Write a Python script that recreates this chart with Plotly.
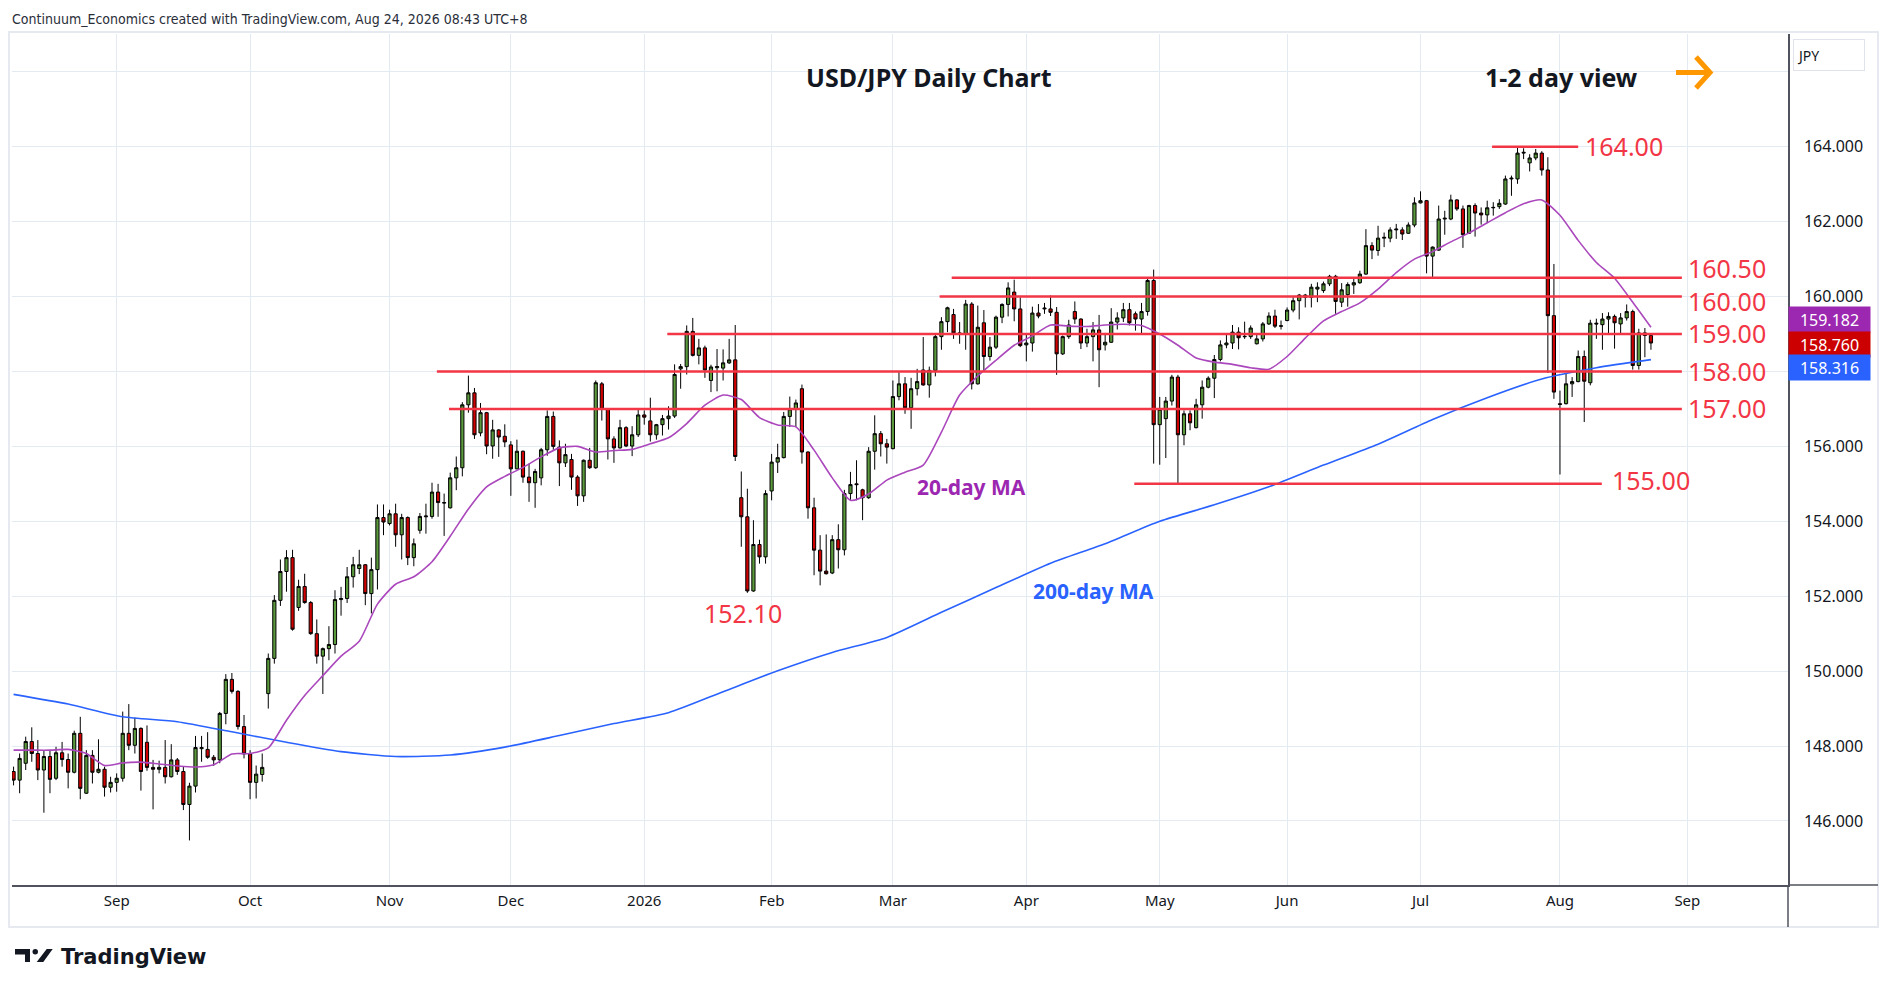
import pandas as pd
import plotly.graph_objects as go

# ---- data: USD/JPY daily bars, 7 Aug 2025 .. 24 Aug 2026 (no bars on 25 Dec / 1 Jan) ----
first_day, last_day = "2025-08-07", "2026-08-24"
holidays = ["2025-12-25", "2026-01-01"]

open_ = [
    # Aug 2025
    147.32, 147.09, 147.54, 148.12, 147.80, 147.36, 147.72, 147.14, 147.82, 147.64, 147.30, 148.34, 146.74, 147.75, 147.30, 147.38, 146.90,
    # Sep
    147.03, 147.14, 148.34, 148.02, 148.47, 148.10, 147.43, 147.38, 147.43, 147.18, 147.63, 147.32, 146.44, 146.93, 147.93, 147.91, 147.70, 147.63, 148.87, 149.78, 149.46, 148.52,
    # Oct
    147.79, 147.03, 147.24, 149.40, 150.34, 151.89, 152.66, 153.03, 151.70, 152.26, 151.83, 151.00, 150.40, 150.60, 150.71, 151.91, 151.94, 152.52, 152.74, 152.84, 152.07, 152.71, 154.10,
    # Nov
    153.94, 154.20, 153.64, 154.10, 153.03, 153.76, 154.12, 154.13, 154.78, 154.50, 154.36, 155.16, 155.43, 157.11, 157.43, 156.36, 156.90, 156.01, 156.44, 156.27,
    # Dec
    156.04, 155.40, 155.87, 155.18, 155.03, 155.16, 155.91, 156.80, 155.98, 155.56, 155.65, 155.18, 154.68, 155.63, 155.43, 157.67, 156.99, 156.20, 155.96, 156.50, 156.01, 156.31,
    # Jan 2026
    156.84, 156.68, 156.31, 156.58, 156.74, 156.81, 158.07, 158.13, 159.07, 158.43, 158.63, 157.76, 158.10, 158.09, 158.23, 158.31, 154.63, 154.12, 152.14, 153.38, 153.05,
    # Feb
    154.81, 155.58, 155.70, 156.80, 157.00, 157.54, 155.85, 154.36, 153.23, 152.67, 152.62, 153.51, 153.24, 154.74, 155.00, 154.84, 154.63, 155.87, 156.34, 156.07,
    # Mar
    155.94, 157.33, 157.67, 157.03, 157.54, 158.04, 157.64, 158.03, 158.93, 159.33, 159.52, 159.03, 158.99, 159.80, 157.67, 159.30, 158.40, 158.65, 159.45, 159.79, 160.12, 159.67,
    # Apr
    158.71, 158.76, 159.56, 159.67, 159.67, 159.58, 158.47, 158.93, 159.60, 159.40, 158.76, 158.93, 159.11, 158.71, 158.78, 159.32, 159.43, 159.65, 159.54, 159.40, 159.60, 160.43,
    # May
    156.58, 156.74, 157.21, 157.85, 156.31, 156.87, 156.50, 157.11, 157.58, 157.82, 158.32, 158.71, 158.76, 159.05, 158.94, 158.93, 158.74, 158.87, 159.27, 159.48, 159.22,
    # Jun
    159.36, 159.64, 159.89, 160.04, 159.98, 160.20, 160.16, 160.34, 160.54, 159.85, 160.05, 160.31, 160.37, 160.60, 161.36, 161.23, 161.56, 161.56, 161.78, 161.78, 161.69, 161.91,
    # Jul
    162.50, 162.56, 161.08, 161.24, 162.07, 162.07, 162.58, 162.34, 161.69, 162.43, 162.23, 162.18, 162.37, 162.40, 162.47, 163.14, 163.14, 163.83, 163.57, 163.70, 163.83, 163.38, 159.49,
    # Aug
    157.14, 157.14, 157.67, 157.73, 158.40, 157.70, 159.29, 159.25, 159.40, 159.47, 159.27, 159.43, 159.60, 158.16, 159.03, 158.96,
]
high = [
    147.45, 147.80, 148.25, 148.50, 148.16, 147.89, 147.89, 147.98, 148.11, 147.80, 148.41, 148.78, 147.89, 147.89, 148.18, 147.45, 147.18,
    147.27, 148.92, 149.12, 148.76, 148.50, 148.55, 147.63, 147.61, 148.16, 148.05, 147.68, 147.45, 147.02, 148.27, 148.27, 148.37, 147.76, 148.91, 149.92, 149.95, 149.49, 148.83,
    147.89, 147.48, 147.80, 150.47, 152.03, 152.98, 153.23, 153.24, 152.44, 152.60, 151.87, 151.38, 150.63, 151.20, 152.16, 152.25, 152.78, 153.05, 153.24, 152.86, 153.03, 154.45, 154.45,
    154.31, 154.47, 154.20, 154.13, 153.54, 154.22, 154.47, 155.03, 155.00, 154.74, 155.30, 155.73, 157.18, 157.89, 157.56, 157.16, 156.92, 156.71, 156.46, 156.59,
    156.14, 156.18, 155.89, 155.54, 155.40, 155.96, 156.96, 156.93, 156.16, 156.07, 155.80, 155.23, 155.65, 155.96, 157.76, 157.72, 157.02, 156.27, 156.71, 156.54, 156.54, 156.98,
    156.96, 157.30, 156.60, 156.84, 157.07, 158.19, 158.20, 159.23, 159.43, 158.87, 158.69, 158.18, 158.60, 158.59, 158.87, 159.24, 155.33, 154.87, 154.03, 153.51, 154.83,
    155.80, 156.07, 156.92, 157.33, 157.25, 157.65, 155.87, 154.63, 153.63, 153.65, 153.63, 153.92, 154.84, 155.32, 155.63, 154.87, 155.98, 156.83, 156.41, 156.20,
    157.76, 157.98, 157.85, 157.83, 158.07, 158.92, 158.13, 159.00, 159.45, 159.73, 159.67, 159.32, 159.91, 159.85, 159.76, 159.64, 158.92, 159.49, 159.82, 160.38, 160.45, 159.98,
    159.02, 159.73, 159.80, 159.83, 160.03, 159.72, 158.96, 159.38, 159.87, 159.42, 159.14, 159.32, 159.51, 159.03, 159.69, 159.58, 159.83, 159.83, 159.60, 159.83, 160.47, 160.72,
    157.32, 157.32, 157.91, 157.91, 156.96, 156.96, 157.27, 157.76, 157.87, 158.44, 158.83, 159.00, 159.24, 159.18, 159.33, 159.23, 159.02, 159.32, 159.58, 159.65, 159.36,
    159.71, 159.98, 160.07, 160.07, 160.34, 160.38, 160.40, 160.58, 160.58, 160.36, 160.38, 160.52, 160.69, 161.80, 161.45, 161.89, 161.71, 161.85, 161.94, 161.85, 161.98, 162.65,
    162.81, 162.58, 161.34, 162.43, 162.29, 162.72, 162.60, 162.43, 162.45, 162.49, 162.38, 162.56, 162.52, 162.60, 163.23, 163.23, 163.98, 163.96, 163.80, 163.94, 163.88, 163.72, 160.87,
    157.49, 157.94, 157.85, 158.56, 158.56, 159.38, 159.41, 159.56, 159.58, 159.52, 159.56, 159.79, 159.65, 159.14, 159.16, 158.99,
]
low = [
    146.95, 146.74, 147.36, 147.58, 147.09, 146.22, 146.74, 147.09, 147.45, 146.87, 147.27, 146.58, 146.72, 147.00, 147.27, 146.65, 146.76,
    146.78, 147.05, 147.89, 147.80, 146.81, 147.34, 146.31, 147.27, 147.00, 147.16, 147.23, 146.29, 145.48, 146.76, 147.58, 147.66, 147.47, 147.54, 148.58, 149.40, 148.44, 147.67,
    146.58, 146.60, 147.05, 149.00, 150.20, 151.74, 152.12, 151.08, 151.61, 151.80, 150.97, 150.20, 149.39, 150.29, 150.47, 151.48, 151.82, 152.23, 152.59, 151.76, 151.54, 152.18, 153.63,
    153.89, 153.32, 152.98, 152.83, 152.80, 153.67, 153.67, 154.07, 154.12, 153.61, 154.34, 154.83, 155.20, 156.90, 156.20, 156.27, 155.79, 155.67, 155.72, 155.98,
    154.68, 155.39, 155.03, 154.52, 154.36, 154.96, 155.75, 155.91, 154.94, 155.45, 154.84, 154.41, 154.52, 155.40, 155.40, 156.69, 155.65, 155.56, 155.94, 155.98, 155.74, 156.25,
    156.58, 156.13, 156.18, 156.29, 156.45, 156.76, 157.54, 157.92, 158.40, 158.19, 157.83, 157.45, 157.47, 157.76, 158.20, 155.61, 153.32, 152.09, 152.12, 152.87, 152.87,
    154.56, 155.29, 155.68, 156.52, 156.52, 155.54, 154.07, 152.56, 152.29, 152.58, 152.59, 152.74, 153.09, 154.56, 154.56, 154.03, 154.60, 155.38, 155.73, 155.54,
    155.92, 157.23, 156.87, 156.47, 157.36, 157.62, 157.30, 157.87, 158.58, 159.05, 158.87, 158.74, 158.58, 157.52, 157.65, 158.03, 158.29, 158.60, 159.29, 159.47, 159.34, 158.65,
    158.27, 158.53, 159.42, 159.54, 159.48, 157.91, 158.44, 158.87, 159.27, 158.60, 158.65, 158.27, 157.58, 158.56, 158.76, 159.12, 159.32, 159.23, 159.09, 158.98, 159.49, 155.54,
    155.51, 155.69, 157.09, 154.99, 156.03, 156.43, 156.48, 156.74, 157.55, 157.29, 158.27, 158.62, 158.60, 158.59, 158.87, 158.87, 158.72, 158.80, 159.24, 159.16, 159.12,
    159.34, 159.58, 159.39, 159.71, 159.71, 159.85, 160.10, 160.28, 159.54, 159.72, 159.73, 160.07, 160.34, 160.58, 161.00, 161.09, 161.32, 161.45, 161.54, 161.51, 161.67, 161.85,
    162.49, 160.62, 160.49, 161.22, 161.65, 162.04, 162.29, 161.30, 161.67, 161.60, 161.92, 161.96, 162.16, 162.34, 162.45, 162.69, 163.01, 163.67, 163.34, 163.64, 163.23, 157.96, 157.27,
    155.25, 157.12, 157.32, 157.71, 156.65, 157.63, 158.87, 158.58, 159.02, 158.61, 159.00, 159.36, 158.05, 158.05, 158.38, 158.58,
]
close = [
    147.09, 147.67, 148.12, 147.80, 147.36, 147.72, 147.11, 147.82, 147.64, 147.30, 148.34, 146.87, 147.75, 147.30, 147.38, 146.90, 147.03,
    147.14, 148.34, 148.02, 148.47, 147.32, 147.43, 147.38, 147.43, 147.18, 147.63, 147.32, 146.44, 146.93, 147.96, 147.96, 147.70, 147.63, 148.87, 149.78, 149.46, 148.52, 147.79,
    147.03, 147.25, 147.43, 150.34, 151.89, 152.66, 153.03, 151.12, 152.26, 151.83, 151.00, 150.40, 150.60, 150.71, 151.91, 151.94, 152.52, 152.84, 152.84, 152.07, 152.71, 154.10, 153.98,
    154.20, 153.64, 154.10, 153.03, 153.40, 154.13, 154.14, 154.78, 154.50, 154.49, 155.16, 155.43, 157.11, 157.43, 156.31, 156.90, 156.01, 156.44, 156.25, 156.12,
    155.40, 155.87, 155.18, 155.03, 155.33, 155.91, 156.80, 156.00, 155.56, 155.78, 155.18, 154.68, 155.63, 155.43, 157.70, 156.99, 156.20, 155.96, 156.50, 156.01, 156.31, 156.84,
    156.78, 156.31, 156.58, 156.74, 156.81, 157.92, 158.13, 159.07, 158.43, 158.63, 158.04, 158.12, 158.13, 158.23, 158.31, 155.73, 154.12, 152.14, 153.38, 153.05, 154.74,
    155.58, 155.70, 156.80, 157.00, 157.16, 155.85, 154.36, 153.23, 152.67, 152.60, 153.51, 153.24, 154.74, 154.98, 154.98, 154.63, 155.87, 156.34, 156.07, 155.98,
    157.33, 157.67, 157.03, 157.54, 157.73, 157.64, 158.03, 158.93, 159.33, 159.70, 159.03, 158.99, 159.80, 157.67, 159.18, 158.40, 158.65, 159.45, 159.79, 160.23, 159.67, 158.69,
    158.76, 159.56, 159.48, 159.69, 159.58, 158.47, 158.93, 159.24, 159.40, 158.76, 158.93, 159.11, 158.58, 158.78, 159.32, 159.43, 159.65, 159.30, 159.40, 159.60, 160.43, 156.58,
    156.99, 157.21, 157.85, 156.31, 156.87, 156.63, 157.11, 157.58, 157.82, 158.32, 158.71, 158.76, 159.05, 158.90, 158.93, 159.16, 158.87, 159.27, 159.48, 159.21, 159.21,
    159.64, 159.89, 160.04, 159.98, 160.25, 160.25, 160.34, 160.54, 159.87, 160.18, 160.32, 160.37, 160.60, 161.36, 161.24, 161.56, 161.58, 161.78, 161.80, 161.67, 161.91, 162.50,
    162.56, 161.08, 161.32, 162.07, 162.09, 162.58, 162.34, 161.65, 162.43, 162.23, 162.18, 162.37, 162.38, 162.49, 163.14, 163.16, 163.83, 163.85, 163.70, 163.83, 163.38, 159.49, 157.45,
    157.12, 157.67, 157.73, 158.40, 157.74, 159.29, 159.27, 159.40, 159.47, 159.30, 159.43, 159.60, 158.16, 159.03, 158.96, 158.76,
]

# moving averages: 20-day every 3rd bar, 200-day every 9th bar
ma20_step, ma200_step = 3, 9
ma20 = [
    147.89, 147.89, 147.89, 147.91, 147.80, 147.48, 147.55, 147.57, 147.52, 147.47,
    147.44, 147.50, 147.79, 147.80, 147.95, 148.69, 149.35, 149.88, 150.40, 150.80,
    151.79, 152.32, 152.52, 152.92, 153.60, 154.33, 154.92, 155.20, 155.44, 155.72,
    155.96, 156.00, 155.85, 155.89, 155.92, 156.07, 156.23, 156.61, 157.10, 157.37,
    157.25, 156.77, 156.57, 156.52, 155.90, 155.16, 154.56, 154.73, 155.10, 155.31,
    155.50, 156.38, 157.37, 157.88, 158.30, 158.70, 158.95, 159.24, 159.21, 159.20,
    159.24, 159.26, 159.23, 159.00, 158.70, 158.36, 158.25, 158.19, 158.10, 158.06,
    158.40, 158.89, 159.35, 159.60, 159.83, 160.20, 160.64, 161.00, 161.20, 161.46,
    161.70, 161.97, 162.24, 162.48, 162.58, 162.17, 161.50, 160.91, 160.49, 159.85,
    159.182,
]
ma200 = [
    149.38, 149.12, 148.78, 148.65, 148.38, 148.10, 147.85, 147.72, 147.76, 147.97,
    148.28, 148.60, 148.89, 149.45, 150.01, 150.50, 150.90, 151.57, 152.23, 152.88,
    153.40, 154.00, 154.44, 154.92, 155.50, 156.06, 156.72, 157.30, 157.80, 158.10,
    158.316,
]

# horizontal levels drawn on the chart
level_values = [164.00, 160.50, 160.00, 159.00, 158.00, 157.00, 155.00]
level_start = ["2026-07-17 07:12", "2026-03-16 04:48", "2026-03-12 04:48", "2026-01-08 07:12",
               "2025-11-13 07:12", "2025-11-17 07:12", "2026-04-27 07:12"]
level_end = ["2026-08-06 12:00", "2026-08-31 14:24", "2026-08-31 14:24", "2026-08-31 14:24",
             "2026-08-31 14:24", "2026-08-31 14:24", "2026-08-12 09:36"]
# labels that sit in the same group are stacked in one text block
level_label_group = [0, 1, 1, 2, 3, 4, 5]
level_label_gap = [6, 5, 5, 5, 5, 5, 9]
level_label_lift = [1, 3, 3, 1, 0, 1, 4]

low_label, low_label_at, low_label_y = "152.10", "2026-01-26 19:12", 151.55

month_ticks = ["2025-09-01", "2025-10-01", "2025-11-03", "2025-12-01", "2026-01-02", "2026-02-02",
               "2026-03-02", "2026-04-01", "2026-05-01", "2026-06-01", "2026-07-01", "2026-08-03",
               "2026-09-01"]
month_labels = ["Sep", "Oct", "Nov", "Dec", "2026", "Feb", "Mar", "Apr", "May", "Jun", "Jul", "Aug", "Sep"]
price_ticks = list(range(146, 168, 2))
hidden_price_ticks = [158, 166]   # covered by the value boxes / currency box

# ---- styling ----
W, H = 1888, 996
PL, PR, PT, PB = 12, 1788, 34, 885
GREEN, RED = "#5B9A3C", "#D10000"
LEVEL_RED = "#F23645"
PURPLE, PURPLE_TXT = "#AB47BC", "#9C27B0"
BLUE = "#2962FF"
GRID = "#E3EAF2"
AXIS = "#50535E"
INK = "#131722"
FONT = "Noto Sans, DejaVu Sans, sans-serif"


def px(x):
    return (x - PL) / (PR - PL)


def py(y):
    return (PB - y) / (PB - PT)


def paper_text(x, y, text, size, colour=INK, anchor="center", family=FONT):
    return dict(x=px(x), y=py(y), xref="paper", yref="paper", text=text, showarrow=False,
                xanchor=anchor, yanchor="middle", font=dict(family=family, size=size, color=colour))


noon = pd.Timedelta(hours=12)
dates = pd.bdate_range(first_day, last_day)
dates = dates[~dates.isin(pd.to_datetime(holidays))] + noon

fig = go.Figure()

fig.add_trace(go.Scatter(x=dates[::ma200_step], y=ma200, mode="lines",
                         line=dict(color=BLUE, width=1.6, shape="spline", smoothing=0.6),
                         hoverinfo="skip"))
fig.add_trace(go.Scatter(x=dates[::ma20_step], y=ma20, mode="lines",
                         line=dict(color=PURPLE, width=1.6, shape="spline", smoothing=0.6),
                         hoverinfo="skip"))
fig.add_trace(go.Candlestick(
    x=dates, open=open_, high=high, low=low, close=close,
    increasing=dict(fillcolor=GREEN, line=dict(color="#000000", width=1)),
    decreasing=dict(fillcolor=RED, line=dict(color="#000000", width=1)),
    whiskerwidth=0,
))

shapes = []
annotations = []

for val, x0, x1 in zip(level_values, level_start, level_end):
    shapes.append(dict(type="line", xref="x", yref="y", x0=x0, x1=x1, y0=val, y1=val,
                       line=dict(color=LEVEL_RED, width=2.5)))

for g in sorted(set(level_label_group)):
    idx = [i for i, gg in enumerate(level_label_group) if gg == g]
    vals = [level_values[i] for i in idx]
    i0 = idx[0]
    annotations.append(dict(x=level_end[i0], y=sum(vals) / len(vals), xref="x", yref="y",
                            text="<br>".join(f"{v:.2f}" for v in vals), showarrow=False,
                            xanchor="left", yanchor="middle", align="left",
                            xshift=level_label_gap[i0], yshift=level_label_lift[i0], borderpad=0,
                            font=dict(family=FONT, size=25, color=LEVEL_RED)))

annotations.append(dict(x=low_label_at, y=low_label_y, xref="x", yref="y", text=low_label,
                        showarrow=False, xanchor="center", yanchor="middle",
                        font=dict(family=FONT, size=25, color=LEVEL_RED)))
annotations.append(dict(x="2026-03-19 12:00", y=154.92, xref="x", yref="y", text="<b>20-day MA</b>",
                        showarrow=False, xanchor="center", yanchor="middle",
                        font=dict(family=FONT, size=21, color=PURPLE_TXT)))
annotations.append(dict(x="2026-04-16 14:24", y=152.15, xref="x", yref="y", text="<b>200-day MA</b>",
                        showarrow=False, xanchor="center", yanchor="middle",
                        font=dict(family=FONT, size=21, color=BLUE)))

# titles and header
annotations.append(paper_text(929, 77, "<b>USD/JPY Daily Chart</b>", 25))
annotations.append(paper_text(1561, 77, "<b>1-2 day view</b>", 25))
annotations.append(paper_text(10, 19, "Continuum_Economics created with TradingView.com, Aug 24, 2026 08:43 UTC+8",
                              14, "#2A2E39", "left",
                              "Liberation Sans Narrow, DejaVu Sans Condensed, Arial Narrow, sans-serif"))

# orange arrow
shapes.append(dict(type="path", xref="paper", yref="paper",
                   path=f"M {px(1676)},{py(72.5)} L {px(1709)},{py(72.5)} "
                        f"M {px(1696)},{py(57)} L {px(1710)},{py(72.5)} L {px(1696)},{py(88)}",
                   line=dict(color="#FF9800", width=5), fillcolor="rgba(0,0,0,0)"))

# last-value boxes on the price scale
for value, colour, lift in [(ma20[-1], PURPLE_TXT, 8), (close[-1], "#CC0000", -1), (ma200[-1], BLUE, -8)]:
    annotations.append(dict(x=1, y=value, xref="paper", yref="y", xanchor="left", yanchor="middle",
                            yshift=lift, text=f"{value:.3f}", showarrow=False, width=77, height=21,
                            bgcolor=colour, borderpad=2,
                            font=dict(family=FONT, size=16, color="white")))

# currency box
annotations.append(dict(x=px(1793), y=py(39), xref="paper", yref="paper", xanchor="left", yanchor="top",
                        text="JPY", showarrow=False, align="left", width=64, height=24, borderpad=3,
                        bgcolor="white", bordercolor="#E0E3EB", borderwidth=1,
                        font=dict(family=FONT, size=14, color=INK)))

# chart frame and pane separators
shapes.append(dict(type="rect", xref="paper", yref="paper", x0=px(9), x1=px(1878), y0=py(927), y1=py(32),
                   line=dict(color="#E6E9EF", width=2), layer="below"))
shapes.append(dict(type="line", xref="paper", yref="paper", x0=1, x1=px(1878), y0=0, y1=0,
                   line=dict(color=AXIS, width=1.5)))
shapes.append(dict(type="line", xref="paper", yref="paper", x0=1, x1=1, y0=0, y1=py(927),
                   line=dict(color=AXIS, width=1.5)))

# TradingView logo
shapes.append(dict(type="path", xref="paper", yref="paper",
                   path=f"M {px(15)},{py(949)} L {px(30)},{py(949)} L {px(30)},{py(962)} L {px(25)},{py(962)} "
                        f"L {px(25)},{py(954.5)} L {px(15)},{py(954.5)} Z",
                   fillcolor=INK, line=dict(width=0)))
shapes.append(dict(type="circle", xref="paper", yref="paper", x0=px(32.5), x1=px(38), y0=py(954.5), y1=py(949),
                   fillcolor=INK, line=dict(width=0)))
shapes.append(dict(type="path", xref="paper", yref="paper",
                   path=f"M {px(36.7)},{py(962)} L {px(43.3)},{py(962)} L {px(52.7)},{py(949)} L {px(46.7)},{py(949)} Z",
                   fillcolor=INK, line=dict(width=0)))
annotations.append(paper_text(59, 957, "<b>TradingView</b>", 21, INK, "left", "DejaVu Sans, Noto Sans, sans-serif"))

fig.update_layout(
    width=W, height=H, autosize=False,
    margin=dict(l=PL, r=W - PR, t=PT, b=H - PB),
    paper_bgcolor="white", plot_bgcolor="white",
    showlegend=False, boxgap=0.25,
    font=dict(family=FONT, color=INK),
    shapes=shapes, annotations=annotations,
    xaxis=dict(
        type="date",
        range=["2025-08-07 05:46", "2026-09-24 02:24"],
        rangebreaks=[dict(bounds=["sat", "mon"]), dict(values=holidays)],
        rangeslider=dict(visible=False),
        tickvals=[pd.Timestamp(t) + noon for t in month_ticks], ticktext=month_labels,
        showgrid=True, gridcolor=GRID, gridwidth=1,
        showline=True, linecolor=AXIS, linewidth=1.5,
        ticks="", ticklabelstandoff=1, tickfont=dict(family=FONT, size=15, color=INK),
        zeroline=False,
    ),
    yaxis=dict(
        side="right", range=[144.29, 167.01],
        tickvals=price_ticks,
        ticktext=["" if p in hidden_price_ticks else f"{p:.3f}" for p in price_ticks],
        showgrid=True, gridcolor=GRID, gridwidth=1,
        showline=True, linecolor=AXIS, linewidth=1.5,
        ticks="", ticklabelstandoff=11, tickfont=dict(family=FONT, size=16, color=INK),
        zeroline=False,
    ),
)

fig.write_html("out.html", config={"displayModeBar": False},
               post_script="document.body.style.margin='0';document.body.style.overflow='hidden';")
